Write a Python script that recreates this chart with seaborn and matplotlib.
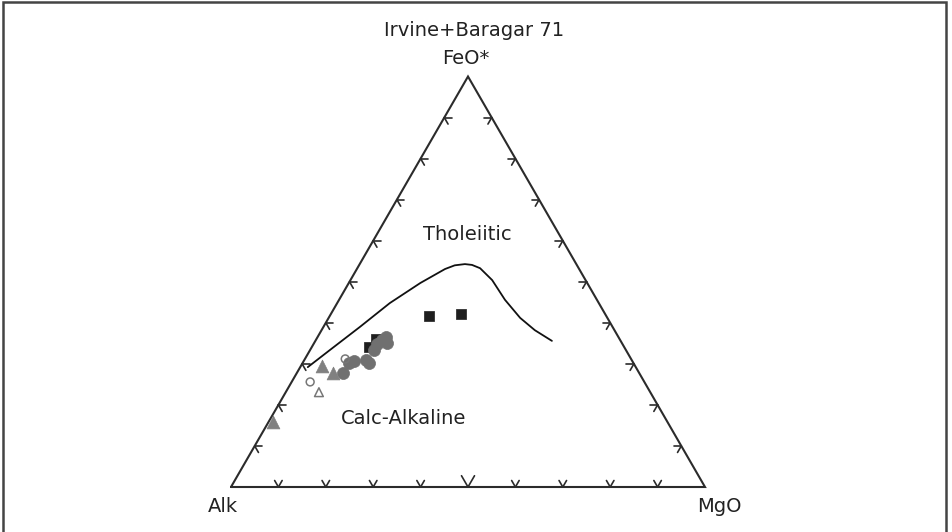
import numpy as np
import pandas as pd
import matplotlib
matplotlib.use("Agg")
import matplotlib.pyplot as plt
import seaborn as sns
from matplotlib.patches import Rectangle

sns.set_theme(style="white")
plt.rcParams['font.family'] = ['DejaVu Sans']

# ---------------- data (percent: Alk, FeO*, MgO) ----------------
curve_alk = [69.2, 62.4, 53.3, 44.1, 35.2, 28.3, 25.8, 23.5, 22.1, 20.8, 19.7, 19.4, 18.4, 16.8, 14.5]
curve_feo = [29.2, 33.4, 39.0, 44.8, 49.7, 53.1, 54.0, 54.3, 54.1, 53.3, 50.4, 45.6, 41.2, 38.2, 35.6]
curve_mgo = [1.6, 4.2, 7.7, 11.1, 15.1, 18.6, 20.2, 22.2, 23.8, 25.9, 29.9, 35.0, 40.4, 45.0, 49.9]

sq_alk = [37.4, 30.4, 51.3, 53.9]
sq_feo = [41.7, 42.1, 36.1, 34.1]
sq_mgo = [20.9, 27.5, 12.6, 12.0]

circ_alk = [62.5, 60.0, 58.7, 56.1, 55.8, 53.1, 51.8, 50.2, 49.5, 49.0]
circ_feo = [27.8, 30.2, 30.7, 30.9, 30.2, 33.4, 34.8, 35.8, 35.1, 36.5]
circ_mgo = [9.7, 9.8, 10.6, 13.0, 14.0, 13.5, 13.4, 14.0, 15.4, 14.5]

ocirc_alk = [60.3, 70.5]
ocirc_feo = [31.2, 25.6]
ocirc_mgo = [8.5, 3.9]

otri_alk = [69.9]
otri_feo = [23.1]
otri_mgo = [7.0]

tri_alk = [66.1, 64.6, 83.2]
tri_feo = [29.5, 27.8, 15.8]
tri_mgo = [4.4, 7.6, 1.0]

corner_labels = ["Alk", "FeO*", "MgO"]
title = "Irvine+Baragar 71"
field_labels = ["Tholeiitic", "Calc-Alkaline"]

H = np.sqrt(3) / 2


def tern(alk, feo, mgo):
    a, f, m = (np.asarray(v, float) for v in (alk, feo, mgo))
    s = a + f + m
    f, m = f / s, m / s
    return pd.DataFrame({"x": m + f / 2, "y": f * H})


W, Hpx = 952, 532
fig = plt.figure(figsize=(W / 100, Hpx / 100), dpi=100)
ax = fig.add_axes([0, 0, 1, 1])
# pixel geometry: Alk corner at (231,487), side 474 px
scale = 474.0
x0, yb = 231.0, 487.0
ax.set_xlim(-x0 / scale, (W - x0) / scale)
ax.set_ylim((yb - Hpx) / scale, yb / scale)
ax.axis("off")

edge_col = "#2b2b2b"
# triangle
ax.plot([0, 1, 0.5, 0], [0, 0, H, 0], color=edge_col, lw=1.5, solid_joinstyle="miter", zorder=2)

# ticks
def arm(px, py, ang, L):
    a = np.deg2rad(ang)
    ax.plot([px, px + L * np.cos(a)], [py, py + L * np.sin(a)], color=edge_col, lw=1.2, zorder=2)

Ls = 7.5 / scale
for k in range(1, 10):
    t = k / 10
    L = 13 / scale if k == 5 else Ls
    # bottom
    arm(t, 0, 60, L); arm(t, 0, 120, L)
    # left edge
    lx, ly = 0.5 * t, H * t
    arm(lx, ly, 0, Ls); arm(lx, ly, -60, Ls)
    # right edge
    rx, ry = 1 - 0.5 * t, H * t
    arm(rx, ry, 180, Ls); arm(rx, ry, 240, Ls)

# boundary curve
cdf = tern(curve_alk, curve_feo, curve_mgo)
sns.lineplot(data=cdf, x="x", y="y", sort=False, estimator=None, color="#111111", lw=1.3, ax=ax, zorder=3)

# data
sns.scatterplot(data=tern(sq_alk, sq_feo, sq_mgo), x="x", y="y", marker="s", s=60,
                color="#1e1e1e", edgecolor="#1e1e1e", linewidth=0.5, ax=ax, zorder=4)
sns.scatterplot(data=tern(circ_alk, circ_feo, circ_mgo), x="x", y="y", marker="o", s=75,
                color="#707070", edgecolor="#707070", linewidth=0.5, ax=ax, zorder=5)
sns.scatterplot(data=tern(tri_alk, tri_feo, tri_mgo), x="x", y="y", marker="^", s=85,
                color="#808080", edgecolor="#808080", linewidth=0.5, ax=ax, zorder=5)
sns.scatterplot(data=tern(ocirc_alk, ocirc_feo, ocirc_mgo), x="x", y="y", marker="o", s=32,
                facecolor="none", edgecolor="#777777", linewidth=1.1, ax=ax, zorder=5)
sns.scatterplot(data=tern(otri_alk, otri_feo, otri_mgo), x="x", y="y", marker="^", s=40,
                facecolor="none", edgecolor="#777777", linewidth=1.1, ax=ax, zorder=5)

# text
def px(xp, yp):
    return (xp - x0) / scale, (yb - yp) / scale

fs = 14
ax.text(*px(474, 31), title, ha="center", va="center", fontsize=fs, color="#222222")
ax.text(*px(466, 59), corner_labels[1], ha="center", va="center", fontsize=fs, color="#222222")
ax.text(*px(223, 507), corner_labels[0], ha="center", va="center", fontsize=fs, color="#222222")
ax.text(*px(719, 507), corner_labels[2], ha="center", va="center", fontsize=fs, color="#222222")
ax.text(*px(467, 235), field_labels[0], ha="center", va="center", fontsize=fs, color="#222222")
ax.text(*px(404, 419), field_labels[1], ha="center", va="center", fontsize=fs, color="#222222")

# outer frame
fig.patches.append(Rectangle((3 / W, -0.05), (946 - 3) / W, 1.05 - 2 / Hpx, transform=fig.transFigure,
                             fill=False, edgecolor="#444444", lw=1.8))

fig.savefig("out.png", dpi=100)
